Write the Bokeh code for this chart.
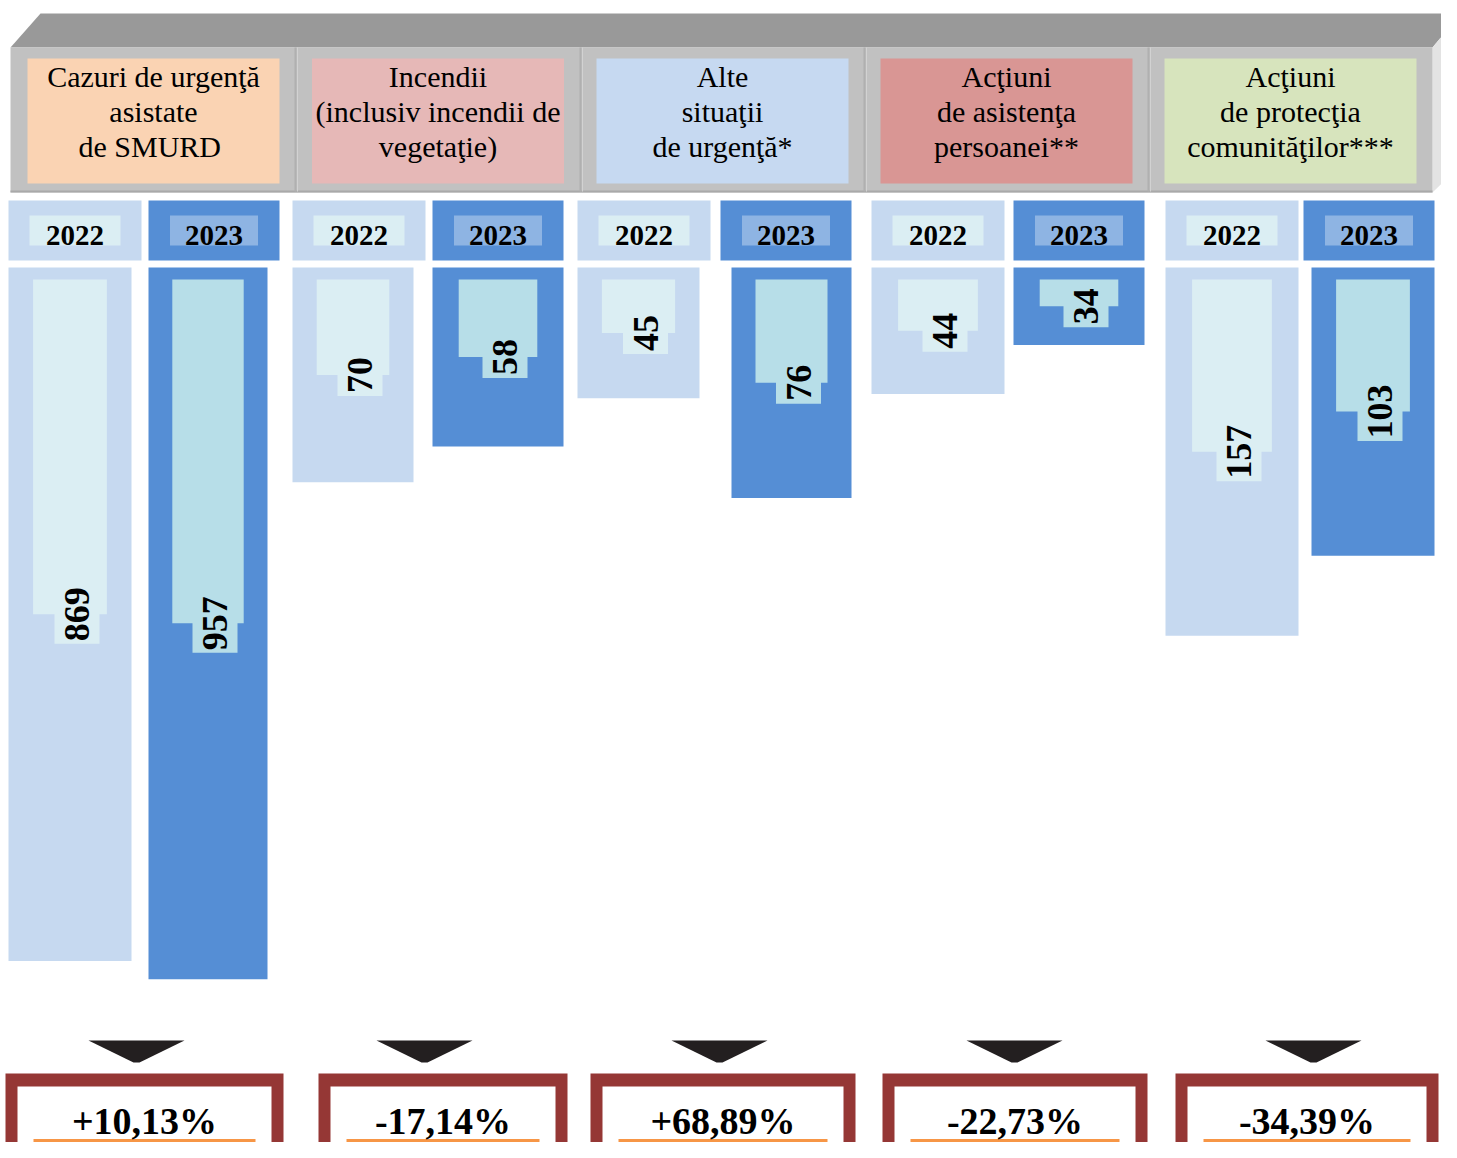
import numpy as np
from bokeh.plotting import figure
from bokeh.models import Range1d, LogScale, ColumnDataSource
from bokeh.core.properties import value
from bokeh.embed import file_html
from bokeh.resources import INLINE

# ---------------- data ----------------
categories = [
    "Cazuri de urgenţă\nasistate\nde  SMURD",
    "Incendii\n(inclusiv incendii de\nvegetaţie)",
    "Alte\nsituaţii\nde urgenţă*",
    "Acţiuni\nde asistenţa\npersoanei**",
    "Acţiuni\nde protecţia\ncomunităţilor***",
]
years = ["2022", "2023"]
values_2022 = [869, 70, 45, 44, 157]
values_2023 = [957, 58, 76, 34, 103]

# ---------------- layout / style ----------------
FONT = value("Liberation Serif")
W, H = 1441, 1142
head_colors = ["#fad3b3", "#e6b8b7", "#c6d9f1", "#d99694", "#d7e4bd"]
head_cx = [153, 437.5, 722, 1006, 1290]
cell22_cx = [74.5, 358.5, 643.5, 937.5, 1231.5]
cell23_cx = [213.5, 497.5, 785.5, 1078.5, 1368.5]
bar22_cx = [69.5, 352.5, 638, 937.5, 1231.5]
bar22_w = [123, 121, 122, 133, 133]
bar23_cx = [207.5, 497.5, 791, 1078.5, 1372.5]
bar23_w = [119, 131, 120, 131, 123]
arrow_cx = [136, 424, 719, 1014, 1313]
box_l = [5, 318, 590, 882, 1175]
box_r = [283, 567, 855, 1147, 1438]

C22, C22_IN = "#c6d9f0", "#dbeef3"
C23, C23_IN, C23_YR = "#558ed5", "#b7dee8", "#8eb4e3"

BAR_TOP_PX = 267
PX_PER_E = 190.0
BASE = 22.6  # value at which bars start (log scale)
log_top = BASE * np.exp(-(BAR_TOP_PX - 0) / PX_PER_E)
log_bottom = BASE * np.exp((H - BAR_TOP_PX) / PX_PER_E)
INNER_TOP = BASE * np.exp(12 / PX_PER_E)

p = figure(width=W, height=H, x_range=Range1d(0, W), y_range=Range1d(H, 0),
           x_axis_type=None, y_axis_type=None, output_backend="svg",
           toolbar_location=None, min_border=0)
p.extra_y_ranges = {"log": Range1d(start=log_bottom, end=log_top)}
p.extra_y_scales = {"log": LogScale()}
p.grid.visible = False
p.outline_line_color = None
p.background_fill_color = "white"

# ---------------- 3D header ----------------
p.patch([10, 40, 1460, 1432], [47, 13, 13, 47], fill_color="#999999", line_color=None)
p.patch([1432, 1460, 1460, 1432], [47, 13, 165, 192], fill_color="#e3e3e3", line_color=None)
p.quad(left=[10], right=[1432], top=[47], bottom=[192], fill_color="#c1c1c1", line_color=None)
p.segment(x0=[10], y0=[191], x1=[1432], y1=[191], line_color="#a9a9a9", line_width=2)
for xd in [295, 580, 864, 1148]:
    p.segment(x0=[xd], y0=[47], x1=[xd], y1=[191], line_color="#b0b0b0", line_width=2)
    p.segment(x0=[xd + 2], y0=[47], x1=[xd + 2], y1=[191], line_color="#d2d2d2", line_width=1)
p.quad(left=[c - 126 for c in head_cx], right=[c + 126 for c in head_cx],
       top=[58] * 5, bottom=[183] * 5, fill_color=head_colors, line_color=None)
for c, cat in zip(head_cx, categories):
    lines = cat.split("\n")
    p.text(x=[c] * len(lines), y=[76 + 35 * i for i in range(len(lines))], text=lines,
           text_font=FONT, text_font_size="30px", text_align="center",
           text_baseline="middle", text_color="black")

# ---------------- year row ----------------
p.quad(left=[c - 66.5 for c in cell22_cx], right=[c + 66.5 for c in cell22_cx],
       top=[200] * 5, bottom=[260] * 5, fill_color=C22, line_color=None)
p.quad(left=[c - 65.5 for c in cell23_cx], right=[c + 65.5 for c in cell23_cx],
       top=[200] * 5, bottom=[260] * 5, fill_color=C23, line_color=None)
p.quad(left=[c - 45.5 for c in cell22_cx], right=[c + 45.5 for c in cell22_cx],
       top=[215] * 5, bottom=[245] * 5, fill_color=C22_IN, line_color=None)
p.quad(left=[c - 44 for c in cell23_cx], right=[c + 44 for c in cell23_cx],
       top=[215] * 5, bottom=[245] * 5, fill_color=C23_YR, line_color=None)
p.text(x=cell22_cx, y=[235] * 5, text=[years[0]] * 5, text_font=FONT, text_font_size="29px",
       text_font_style="bold", text_align="center", text_baseline="middle", text_color="black")
p.text(x=cell23_cx, y=[235] * 5, text=[years[1]] * 5, text_font=FONT, text_font_size="29px",
       text_font_style="bold", text_align="center", text_baseline="middle", text_color="black")

# ---------------- bars (log scale hanging down) ----------------
def draw_bars(cx, widths, vals, col, col_in):
    vals = np.array(vals, dtype=float)
    mid = np.sqrt(BASE * vals)
    src = ColumnDataSource(dict(x=cx, w=widths, v=vals, base=[BASE] * len(vals),
                                itop=[INNER_TOP] * len(vals), mid=mid,
                                iw=[0.6 * w for w in widths],
                                lx=[c + 7 for c in cx],
                                lh=[17 * len(str(int(v))) + 8 for v in vals],
                                lab=[str(int(v)) for v in vals]))
    p.vbar(x="x", width="w", top="base", bottom="v", source=src, y_range_name="log",
           fill_color=col, line_color=None)
    p.vbar(x="x", width="iw", top="itop", bottom="mid", source=src, y_range_name="log",
           fill_color=col_in, line_color=None)
    p.rect(x="lx", y="mid", width=45, height="lh", width_units="screen", height_units="screen",
           source=src, y_range_name="log", fill_color=col_in, line_color=None)
    p.text(x="lx", y="mid", text="lab", source=src, y_range_name="log", angle=np.pi / 2,
           text_font=FONT, text_font_size="36px", text_font_style="bold",
           text_align="center", text_baseline="middle", text_color="black")

draw_bars(bar22_cx, bar22_w, values_2022, C22, C22_IN)
draw_bars(bar23_cx, bar23_w, values_2023, C23, C23_IN)

# ---------------- arrows ----------------
xs = [[c - 48, c + 48, c + 3, c - 3] for c in arrow_cx]
ys = [[1040, 1040, 1062, 1062] for _ in arrow_cx]
p.patches(xs, ys, fill_color="#231f20", line_color=None)

# ---------------- percentage boxes ----------------
pct = [(b - a) / a * 100 for a, b in zip(values_2022, values_2023)]
pct_lab = [f"{v:+.2f}%".replace(".", ",") for v in pct]
p.quad(left=box_l, right=box_r, top=[1073] * 5, bottom=[1162] * 5,
       fill_color="#953735", line_color=None)
p.quad(left=[l + 12 for l in box_l], right=[r - 12 for r in box_r], top=[1086] * 5,
       bottom=[1152] * 5, fill_color="white", line_color=None)
p.segment(x0=[l + 28 for l in box_l], y0=[1140] * 5, x1=[r - 28 for r in box_r],
          y1=[1140] * 5, line_color="#f79646", line_width=3)
p.text(x=[(l + r) / 2 for l, r in zip(box_l, box_r)], y=[1120] * 5, text=pct_lab,
       text_font=FONT, text_font_size="38px", text_font_style="bold",
       text_align="center", text_baseline="middle", text_color="black")

open("out.html", "w").write(file_html(p, INLINE))
